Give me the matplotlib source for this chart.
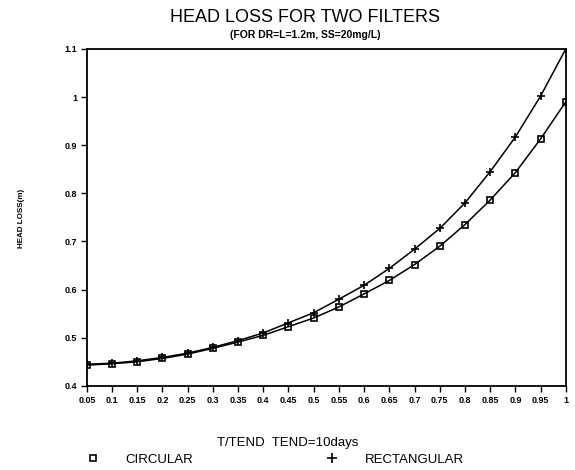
import numpy as np
import matplotlib.pyplot as plt
from matplotlib.lines import Line2D

plt.rcParams['font.family'] = ['Liberation Sans', 'DejaVu Sans']

# T/TEND values
t_ratio = [0.05, 0.1, 0.15, 0.2, 0.25, 0.3, 0.35, 0.4, 0.45, 0.5,
           0.55, 0.6, 0.65, 0.7, 0.75, 0.8, 0.85, 0.9, 0.95, 1.0]
t_labels = ["0.05", "0.1", "0.15", "0.2", "0.25", "0.3", "0.35", "0.4", "0.45", "0.5",
            "0.55", "0.6", "0.65", "0.7", "0.75", "0.8", "0.85", "0.9", "0.95", "1"]

# head loss (m)
circular = [0.443, 0.446, 0.450, 0.457, 0.466, 0.478, 0.491, 0.505, 0.523, 0.541,
            0.564, 0.591, 0.619, 0.652, 0.690, 0.735, 0.786, 0.843, 0.913, 0.990]
rectangular = [0.445, 0.447, 0.452, 0.459, 0.468, 0.480, 0.494, 0.510, 0.531, 0.552,
               0.580, 0.609, 0.644, 0.684, 0.727, 0.780, 0.845, 0.917, 1.002, 1.100]

y_ticks = [0.4, 0.5, 0.6, 0.7, 0.8, 0.9, 1.0, 1.1]
y_labels = ["0.4", "0.5", "0.6", "0.7", "0.8", "0.9", "1", "1.1"]

fig = plt.figure(figsize=(5.75, 4.7), dpi=100)
ax = fig.add_axes([0.151, 0.179, 0.833, 0.717])

ax.plot(t_ratio, circular, color='black', lw=1.1, marker='s', ms=4.5,
        mfc='none', mec='black', mew=1.2)
ax.plot(t_ratio, rectangular, color='black', lw=1.1, marker='+', ms=6, mew=1.2)

ax.set_xlim(0.05, 1.0)
ax.set_ylim(0.4, 1.1)
ax.set_xticks(t_ratio)
ax.set_xticklabels(t_labels)
ax.set_yticks(y_ticks)
ax.set_yticklabels(y_labels)
ax.tick_params(direction='out', length=4, width=1, labelsize=6.5, pad=3)
for lab in ax.get_xticklabels() + ax.get_yticklabels():
    lab.set_fontweight('bold')
for sp in ax.spines.values():
    sp.set_linewidth(1.3)

fig.text(0.53, 0.962, "HEAD LOSS FOR TWO FILTERS", ha='center', va='center', fontsize=13)
fig.text(0.53, 0.925, "(FOR DR=L=1.2m, SS=20mg/L)", ha='center', va='center',
         fontsize=7.5, fontweight='bold')
fig.text(0.038, 0.535, "HEAD LOSS(m)", ha='center', va='center', rotation=90,
         fontsize=5.8, fontweight='bold')
fig.text(0.50, 0.057, "T/TEND  TEND=10days", ha='center', va='center', fontsize=9.5)

handles = [Line2D([], [], ls='none', marker='s', ms=5, mfc='none', mec='black', mew=1.2),
           Line2D([], [], ls='none', marker='+', ms=7, mec='black', mew=1.2)]
fig.legend(handles, ["CIRCULAR", "RECTANGULAR"], ncol=2, frameon=False,
           loc='center left', bbox_to_anchor=(0.129, 0.022), fontsize=9.5,
           handletextpad=2.0, columnspacing=10, handlelength=1)

plt.savefig("out.png", dpi=100)
